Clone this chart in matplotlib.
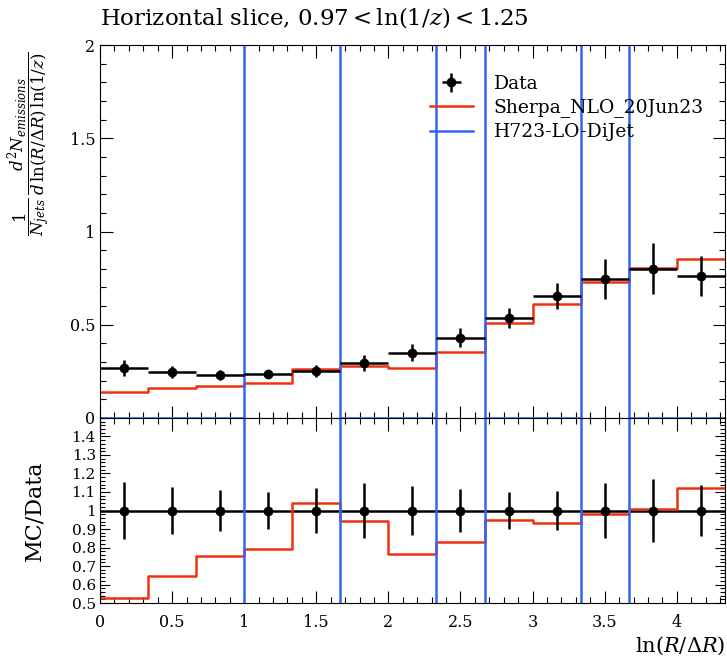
import numpy as np
import matplotlib
matplotlib.use("Agg")
import matplotlib.pyplot as plt
from matplotlib.ticker import MultipleLocator, FuncFormatter

# bin edges in ln(R/dR), bins of width 1/3
edges = np.arange(14) / 3.0
centres = 0.5 * (edges[:-1] + edges[1:])

data = [0.268, 0.247, 0.230, 0.236, 0.252, 0.295, 0.350, 0.430, 0.536, 0.654, 0.745, 0.800, 0.760]
data_err = [0.042, 0.032, 0.026, 0.023, 0.031, 0.044, 0.046, 0.050, 0.054, 0.070, 0.109, 0.136, 0.106]
sherpa = [0.141, 0.160, 0.173, 0.187, 0.262, 0.279, 0.268, 0.356, 0.508, 0.611, 0.731, 0.805, 0.852]
# H723 only fills a few bins, far off the scale
h723 = [0, 0, 0, 50, 50, 0, 0, 50, 0, 0, 50, 0, 0]

labels = ["Data", "Sherpa_NLO_20Jun23", "H723-LO-DiJet"]

data = np.array(data)
data_err = np.array(data_err)
sherpa = np.array(sherpa)
h723 = np.array(h723, dtype=float)

red = "#EE3311"
blue = "#3366EE"

plt.rcParams["font.family"] = ["DejaVu Serif"]
plt.rcParams["mathtext.fontset"] = "dejavuserif"
plt.rcParams["font.size"] = 12

fig = plt.figure(figsize=(7.27, 6.62), dpi=100)
ax = fig.add_axes([0.1376, 0.3686, 0.8594, 0.5634])
rax = fig.add_axes([0.1376, 0.0891, 0.8594, 0.2795], sharex=ax)


def step_vals(v):
    return np.append(v, v[-1])


# main panel
ax.step(edges, step_vals(sherpa), where="post", color=red, lw=1.8, label=labels[1])
ax.step(edges, step_vals(h723), where="post", color=blue, lw=1.8, label=labels[2])
ax.errorbar(centres, data, yerr=data_err, xerr=1 / 6.0, fmt="o", color="black",
            ms=6, elinewidth=1.8, capsize=0, label=labels[0], zorder=5)

ax.set_xlim(0, 13 / 3.0)
ax.set_ylim(0, 2)
ax.yaxis.set_major_locator(MultipleLocator(0.5))
ax.yaxis.set_minor_locator(MultipleLocator(0.1))
ax.xaxis.set_major_locator(MultipleLocator(0.5))
ax.xaxis.set_minor_locator(MultipleLocator(0.1))
ax.yaxis.set_major_formatter(FuncFormatter(lambda v, p: "%g" % v))
plt.setp(ax.get_xticklabels(), visible=False)

handles, labs = ax.get_legend_handles_labels()
order = [labs.index(l) for l in labels]
ax.legend([handles[i] for i in order], [labs[i] for i in order], loc="upper left",
          bbox_to_anchor=(0.51, 0.95), frameon=False, fontsize=13.5,
          handlelength=2.3, handletextpad=1.1, labelspacing=0.3, borderaxespad=0.2)

ax.set_ylabel(r"$\dfrac{1}{N_{jets}}\,\dfrac{d^2 N_{emissions}}{d\,\ln(R/\Delta R)\,\ln(1/z)}$",
              fontsize=12)
ax.yaxis.set_label_coords(-0.076, 0.735)
ax.set_title(r"Horizontal slice, $0.97 < \ln(1/z) < 1.25$", loc="left", fontsize=16.5, pad=15)

# ratio panel
ratio = sherpa / data
h_ratio = h723 / data
rel_err = data_err / data
rax.axhline(1.0, color="black", lw=1.8)
rax.step(edges, step_vals(ratio), where="post", color=red, lw=1.8)
rax.step(edges, step_vals(h_ratio), where="post", color=blue, lw=1.8)
rax.errorbar(centres, np.ones_like(data), yerr=rel_err, fmt="o", color="black",
             ms=6, elinewidth=1.8, capsize=0, zorder=5)
rax.set_ylim(0.5, 1.5)
rax.yaxis.set_major_locator(MultipleLocator(0.1))
rax.yaxis.set_minor_locator(MultipleLocator(0.02))
rax.yaxis.set_major_formatter(FuncFormatter(lambda v, p: "" if v > 1.45 else "%g" % round(v, 1)))
rax.xaxis.set_major_formatter(FuncFormatter(lambda v, p: "%g" % v))
rax.set_ylabel("MC/Data", fontsize=16)
rax.yaxis.set_label_coords(-0.088, 0.5)
rax.set_xlabel(r"$\ln(R/\Delta R)$", fontsize=15)
rax.xaxis.set_label_coords(1.0, -0.17)
rax.xaxis.label.set_horizontalalignment("right")

for a in (ax, rax):
    a.tick_params(which="both", direction="in", top=True, right=True, labelsize=11.5)
    a.tick_params(which="major", length=9, width=0.8)
    a.tick_params(which="minor", length=4.5, width=0.8)
rax.tick_params(axis="x", which="major", pad=8)
rax.tick_params(axis="y", which="major", length=7, labelsize=11, pad=3)
rax.tick_params(axis="y", which="minor", length=3.5)

fig.savefig("out.png", dpi=100)
